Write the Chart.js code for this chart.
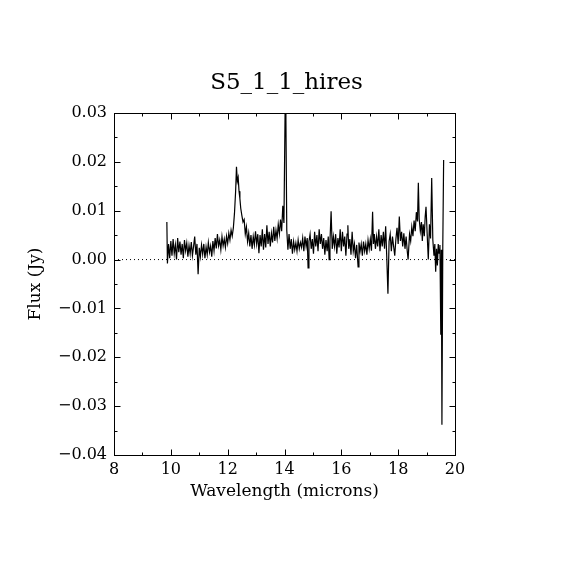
<!DOCTYPE html>
<html>
<head>
<meta charset="utf-8">
<script src="https://cdn.jsdelivr.net/npm/chart.js@4.4.1/dist/chart.umd.min.js"></script>
<style>
  html, body { margin: 0; padding: 0; background: #fff; }
</style>
</head>
<body>
<canvas id="chart" width="570" height="570"></canvas>
<script>
// -----------------------------
// DATA
// -----------------------------
const wavelength = [
  9.86, 9.88, 9.92, 9.96, 10.00, 10.04, 10.08, 10.12, 10.16, 10.20,
  10.24, 10.28, 10.32, 10.36, 10.40, 10.44, 10.48, 10.52, 10.56, 10.60,
  10.64, 10.68, 10.72, 10.76, 10.80, 10.84, 10.88, 10.92, 10.96, 11.00,
  11.04, 11.08, 11.12, 11.16, 11.20, 11.24, 11.28, 11.32, 11.36, 11.40,
  11.44, 11.48, 11.52, 11.56, 11.60, 11.64, 11.68, 11.72, 11.76, 11.80,
  11.84, 11.88, 11.92, 11.96, 12.00, 12.04, 12.08, 12.12, 12.16, 12.20,
  12.24, 12.28, 12.31, 12.34, 12.37, 12.40, 12.43, 12.46, 12.50, 12.54,
  12.58, 12.62, 12.66, 12.70, 12.74, 12.78, 12.82, 12.86, 12.90, 12.94,
  12.98, 13.02, 13.06, 13.10, 13.14, 13.18, 13.22, 13.26, 13.30, 13.34,
  13.38, 13.42, 13.46, 13.50, 13.54, 13.58, 13.62, 13.66, 13.70, 13.74,
  13.78, 13.82, 13.86, 13.90, 13.94, 13.98, 14.02, 14.05, 14.08, 14.12,
  14.16, 14.20, 14.24, 14.28, 14.32, 14.36, 14.40, 14.44, 14.48, 14.52,
  14.56, 14.60, 14.64, 14.68, 14.72, 14.76, 14.80, 14.83, 14.86, 14.90,
  14.94, 14.98, 15.02, 15.06, 15.10, 15.14, 15.18, 15.22, 15.26, 15.30,
  15.34, 15.38, 15.42, 15.46, 15.50, 15.54, 15.57, 15.60, 15.64, 15.68,
  15.72, 15.76, 15.80, 15.84, 15.88, 15.92, 15.96, 16.00, 16.04, 16.08,
  16.12, 16.16, 16.20, 16.23, 16.26, 16.30, 16.34, 16.38, 16.42, 16.46,
  16.50, 16.54, 16.59, 16.62, 16.66, 16.70, 16.74, 16.78, 16.82, 16.86,
  16.90, 16.94, 16.98, 17.02, 17.06, 17.10, 17.13, 17.16, 17.20, 17.24,
  17.28, 17.32, 17.36, 17.40, 17.44, 17.48, 17.52, 17.56, 17.60, 17.64,
  17.68, 17.72, 17.76, 17.80, 17.84, 17.88, 17.92, 17.96, 18.00, 18.04,
  18.08, 18.12, 18.16, 18.20, 18.24, 18.28, 18.32, 18.35, 18.40, 18.44,
  18.48, 18.52, 18.56, 18.60, 18.64, 18.68, 18.71, 18.74, 18.78, 18.82,
  18.85, 18.88, 18.92, 18.95, 18.98, 19.02, 19.06, 19.10, 19.14, 19.18,
  19.22, 19.26, 19.29, 19.32, 19.35, 19.38, 19.41, 19.44, 19.47, 19.50,
  19.52, 19.54, 19.57, 19.60
];

const flux = [
  0.0077, -0.0008, 0.0032, 0.0003, 0.0038, 0.0008, 0.0042, 0.0012, 0.0030, 0.0000,
  0.0044, 0.0015, 0.0037, 0.0010, 0.0032, 0.0003, 0.0040, 0.0018, 0.0034, 0.0006,
  0.0029, 0.0012, 0.0036, 0.0008, 0.0027, 0.0047, 0.0010, 0.0032, -0.0030, 0.0024,
  0.0006, 0.0030, 0.0011, 0.0032, 0.0003, 0.0026, 0.0010, 0.0035, 0.0015, 0.0028,
  0.0006, 0.0038, 0.0018, 0.0044, 0.0023, 0.0052, 0.0028, 0.0040, 0.0020, 0.0047,
  0.0028, 0.0042, 0.0025, 0.0048, 0.0033, 0.0054, 0.0040, 0.0060, 0.0048, 0.0065,
  0.0095, 0.0140, 0.0190, 0.0160, 0.0168, 0.0140, 0.0125, 0.0105, 0.0090, 0.0077,
  0.0082, 0.0052, 0.0067, 0.0037, 0.0054, 0.0027, 0.0050, 0.0022, 0.0047, 0.0030,
  0.0058, 0.0032, 0.0052, 0.0013, 0.0050, 0.0027, 0.0062, 0.0020, 0.0052, 0.0025,
  0.0070, 0.0032, 0.0057, 0.0027, 0.0054, 0.0035, 0.0067, 0.0038, 0.0060, 0.0043,
  0.0072, 0.0053, 0.0082, 0.0058, 0.0110, 0.0075, 0.0298, 0.0285, 0.0060, 0.0020,
  0.0052, 0.0022, 0.0042, 0.0012, 0.0037, 0.0020, 0.0034, 0.0017, 0.0040, 0.0022,
  0.0035, 0.0025, 0.0044, 0.0017, 0.0047, 0.0027, 0.0044, -0.0017, 0.0037, 0.0052,
  0.0022, 0.0042, 0.0012, 0.0057, 0.0027, 0.0050, 0.0017, 0.0062, 0.0032, 0.0052,
  0.0022, 0.0044, 0.0010, 0.0040, 0.0017, 0.0047, 0.0000, 0.0037, 0.0099, 0.0022,
  0.0047, 0.0027, 0.0052, 0.0012, 0.0044, 0.0025, 0.0062, 0.0017, 0.0057, 0.0027,
  0.0047, 0.0008, 0.0052, 0.0070, 0.0022, 0.0042, 0.0010, 0.0057, 0.0017, 0.0032,
  0.0003, 0.0030, -0.0015, 0.0035, 0.0017, 0.0032, 0.0008, 0.0037, 0.0017, 0.0032,
  0.0010, 0.0040, 0.0022, 0.0042, 0.0018, 0.0098, 0.0032, 0.0052, 0.0022, 0.0047,
  0.0027, 0.0062, 0.0017, 0.0050, 0.0027, 0.0057, 0.0022, 0.0068, 0.0003, -0.0070,
  0.0037, 0.0052, 0.0017, 0.0047, 0.0027, 0.0008, 0.0042, 0.0065, 0.0032, 0.0088,
  0.0038, 0.0057, 0.0027, 0.0054, 0.0022, 0.0047, 0.0017, 0.0000, 0.0052, 0.0038,
  0.0067, 0.0048, 0.0080, 0.0058, 0.0097, 0.0078, 0.0157, 0.0083, 0.0058, 0.0077,
  0.0038, 0.0072, 0.0048, 0.0087, 0.0108, 0.0053, 0.0000, 0.0072, 0.0043, 0.0167,
  0.0040, 0.0008, 0.0032, -0.0025, 0.0022, -0.0012, 0.0032, 0.0013, 0.0030, -0.0154,
  0.0020, -0.0338, 0.0025, 0.0204
];

// zero reference line (dotted)
const zeroLineX = [8, 20];
const zeroLineY = [0, 0];

// axis ticks
const xTicks = [8, 10, 12, 14, 16, 18, 20];
const xMinor = [9, 11, 13, 15, 17, 19];
const yTicks = [-0.04, -0.03, -0.02, -0.01, 0.00, 0.01, 0.02, 0.03];
const yMinor = [-0.035, -0.025, -0.015, -0.005, 0.005, 0.015, 0.025];

const TITLE = "S5_1_1_hires";
const FONT = "'DejaVu Serif', 'Liberation Serif', serif";

// -----------------------------
// FRAME, INWARD TICKS (all four sides) AND TITLE
// -----------------------------
const frameTicks = {
  id: "frameTicks",
  afterDraw(chart) {
    const { ctx, chartArea: a, scales: { x, y } } = chart;
    const L = Math.round(a.left) + 0.5, R = Math.round(a.right) + 0.5;
    const T = Math.round(a.top) + 0.5, B = Math.round(a.bottom) + 0.5;
    ctx.save();
    ctx.strokeStyle = "#000";
    ctx.lineWidth = 1;
    ctx.strokeRect(L, T, R - L, B - T);
    ctx.beginPath();
    const xt = (v, len) => {
      const px = Math.round(x.getPixelForValue(v)) + 0.5;
      ctx.moveTo(px, B); ctx.lineTo(px, B - len);
      ctx.moveTo(px, T); ctx.lineTo(px, T + len);
    };
    const yt = (v, len) => {
      const py = Math.round(y.getPixelForValue(v)) + 0.5;
      ctx.moveTo(L, py); ctx.lineTo(L + len, py);
      ctx.moveTo(R, py); ctx.lineTo(R - len, py);
    };
    xTicks.forEach(v => xt(v, 6));
    xMinor.forEach(v => xt(v, 3));
    yTicks.forEach(v => yt(v, 6));
    yMinor.forEach(v => yt(v, 3));
    ctx.stroke();

    // title centred over the plot box
    ctx.fillStyle = "#000";
    ctx.font = "23px " + FONT;
    ctx.textAlign = "center";
    ctx.textBaseline = "middle";
    ctx.fillText(TITLE, (a.left + a.right) / 2 + 2, 83);
    ctx.restore();
  }
};

const fmtY = v => {
  if (Math.abs(v) < 1e-9) return "0.00";
  return (v < 0 ? "\u2212" : "") + Math.abs(v).toFixed(2);
};

new Chart(document.getElementById("chart"), {
  type: "line",
  data: {
    datasets: [
      {
        data: wavelength.map((w, i) => ({ x: w, y: flux[i] })),
        borderColor: "#000",
        borderWidth: 1.2,
        pointRadius: 0,
        tension: 0
      },
      {
        data: zeroLineX.map((w, i) => ({ x: w, y: zeroLineY[i] })),
        borderColor: "#000",
        borderWidth: 1,
        borderDash: [1, 3],
        pointRadius: 0
      }
    ]
  },
  options: {
    responsive: false,
    animation: false,
    devicePixelRatio: 1,
    layout: { padding: { top: 113, right: 115, bottom: 0, left: 0 } },
    plugins: {
      legend: { display: false },
      tooltip: { enabled: false },
      title: { display: false }
    },
    scales: {
      x: {
        type: "linear",
        min: 8,
        max: 20,
        afterBuildTicks: s => { s.ticks = xTicks.map(v => ({ value: v })); },
        afterFit: s => { s.height = 115; },
        grid: { display: false, drawTicks: false },
        border: { display: false },
        ticks: {
          color: "#000",
          padding: 5,
          autoSkip: false,
          maxRotation: 0,
          font: { family: FONT, size: 16 },
          callback: v => String(v)
        },
        title: {
          display: true,
          text: "Wavelength (microns)",
          color: "#000",
          font: { family: FONT, size: 17 },
          padding: { top: 0, bottom: 68 }
        }
      },
      y: {
        type: "linear",
        min: -0.04,
        max: 0.03,
        afterBuildTicks: s => { s.ticks = yTicks.map(v => ({ value: v })); },
        afterFit: s => { s.width = 114; },
        grid: { display: false, drawTicks: false },
        border: { display: false },
        ticks: {
          color: "#000",
          padding: 7,
          autoSkip: false,
          font: { family: FONT, size: 16 },
          callback: v => fmtY(v)
        },
        title: {
          display: true,
          text: "Flux (Jy)",
          color: "#000",
          font: { family: FONT, size: 17 },
          padding: { top: 25, bottom: 0 }
        }
      }
    }
  },
  plugins: [frameTicks]
});
</script>
</body>
</html>
